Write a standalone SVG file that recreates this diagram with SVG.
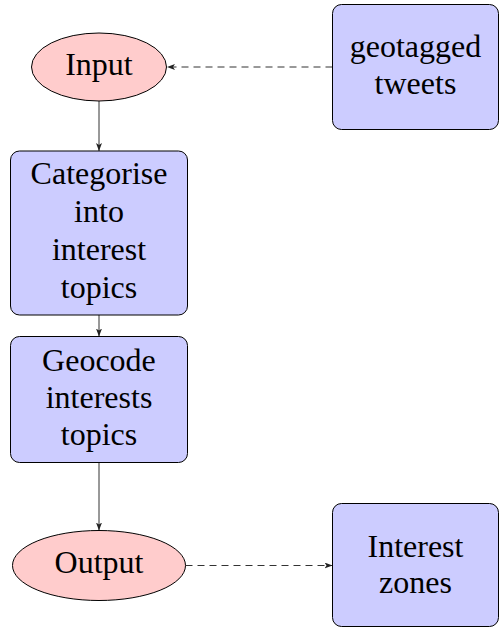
<svg xmlns="http://www.w3.org/2000/svg" width="499" height="628" viewBox="0 0 499 628">
<defs>
<marker id="ah" viewBox="0 0 8 6" refX="8" refY="3" markerWidth="8" markerHeight="6" markerUnits="userSpaceOnUse" orient="auto">
<path d="M0,0 L8,3 L0,6 L2,3 z" fill="#222"/>
</marker>
</defs>
<rect width="499" height="628" fill="#fff"/>
<g id="connectors" fill="none" stroke="#333" stroke-width="1" marker-end="url(#ah)">
<path d="M99,101 L99,151"/>
<path d="M99,315 L99,336.5"/>
<path d="M99,463 L99,530.5"/>
<path d="M332.5,67 L167,67" stroke-dasharray="7 5"/>
<path d="M185.5,565.5 L332.5,565.5" stroke-dasharray="7 5"/>
</g>
<g id="input">
<ellipse cx="99" cy="67" rx="67.5" ry="34" fill="#ffcccc" stroke="#000"/>
<text x="65.2" y="74.5" font-family="Liberation Serif" font-size="32">Input</text>
</g>
<g id="tweets">
<rect x="332.5" y="4.5" width="166" height="125" rx="9" fill="#ccccff" stroke="#000"/>
<text x="349.7" y="57" font-family="Liberation Serif" font-size="32">geotagged</text>
<text x="374.6" y="93.5" font-family="Liberation Serif" font-size="32">tweets</text>
</g>
<g id="categorise">
<rect x="10.5" y="151" width="177" height="164" rx="9" fill="#ccccff" stroke="#000"/>
<text x="30.6" y="183.5" font-family="Liberation Serif" font-size="32">Categorise</text>
<text x="74.1" y="221.5" font-family="Liberation Serif" font-size="32">into</text>
<text x="51.9" y="259.5" font-family="Liberation Serif" font-size="32">interest</text>
<text x="60.8" y="297.5" font-family="Liberation Serif" font-size="32">topics</text>
</g>
<g id="geocode">
<rect x="10.5" y="336.5" width="177" height="126" rx="9" fill="#ccccff" stroke="#000"/>
<text x="42.1" y="370.5" font-family="Liberation Serif" font-size="32">Geocode</text>
<text x="45.7" y="408" font-family="Liberation Serif" font-size="32">interests</text>
<text x="60.8" y="444.5" font-family="Liberation Serif" font-size="32">topics</text>
</g>
<g id="output">
<ellipse cx="99" cy="565.5" rx="86.5" ry="35" fill="#ffcccc" stroke="#000"/>
<text x="54.6" y="573" font-family="Liberation Serif" font-size="32">Output</text>
</g>
<g id="zones">
<rect x="332.5" y="503.5" width="166" height="123" rx="9" fill="#ccccff" stroke="#000"/>
<text x="367.5" y="556.5" font-family="Liberation Serif" font-size="32">Interest</text>
<text x="379.1" y="592.5" font-family="Liberation Serif" font-size="32">zones</text>
</g>
</svg>
